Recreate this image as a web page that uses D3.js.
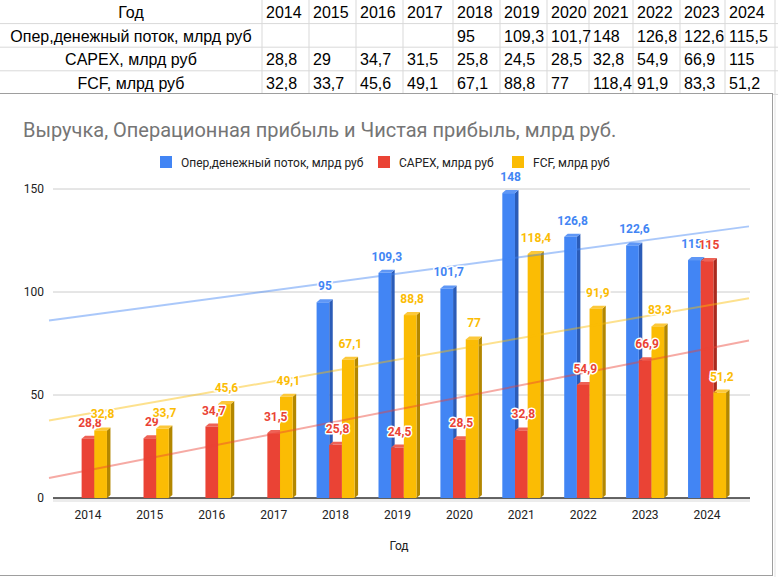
<!DOCTYPE html>
<html>
<head>
<meta charset="utf-8">
<script src="https://cdn.jsdelivr.net/npm/d3@7"></script>
<style>
  body { margin: 0; background: #fff; }
  svg { display: block; }
</style>
</head>
<body>
<div id="chart"></div>
<script>
const years = ["2014", "2015", "2016", "2017", "2018", "2019", "2020", "2021", "2022", "2023", "2024"];
const opCashFlow = [null, null, null, null, 95, 109.3, 101.7, 148, 126.8, 122.6, 115.5];
const capex = [28.8, 29, 34.7, 31.5, 25.8, 24.5, 28.5, 32.8, 54.9, 66.9, 115];
const fcf = [32.8, 33.7, 45.6, 49.1, 67.1, 88.8, 77, 118.4, 91.9, 83.3, 51.2];
const seriesNames = ["Опер,денежный поток, млрд руб", "CAPEX, млрд руб", "FCF, млрд руб"];
const yTicks = [0, 50, 100, 150];
const headerLabel = "Год";
const xAxisTitle = "Год";
const chartTitle = "Выручка, Операционная прибыль и Чистая прибыль, млрд руб.";

const W = 778, H = 577;
const fmt = v => v == null ? "" : String(v).replace(".", ",");

const series = [
  {name: seriesNames[0], values: opCashFlow, color: "#4285f4", side: "#2b5cb8", top: "#5f97f6"},
  {name: seriesNames[1], values: capex, color: "#ea4335", side: "#a92a1e", top: "#ee6256"},
  {name: seriesNames[2], values: fcf, color: "#fbbc04", side: "#b38700", top: "#fcc83a"}
];

const svg = d3.select("#chart").append("svg")
  .attr("width", W)
  .attr("height", H);

// ---------- spreadsheet table on top ----------
const rowH = 23.6, firstColW = 262;
const colWidths = [47, 47, 47, 50, 47, 47, 42, 44, 47, 45, 50];
const colX = [firstColW];
colWidths.forEach((w, i) => colX.push(colX[i] + w));

const rows = [
  {label: headerLabel, cells: years},
  {label: series[0].name, cells: opCashFlow.map(fmt)},
  {label: series[1].name, cells: capex.map(fmt)},
  {label: series[2].name, cells: fcf.map(fmt)}
];

const table = svg.append("g").attr("class", "table");
// grid
for (let r = 1; r <= rows.length; r++) {
  table.append("line")
    .attr("x1", 0).attr("x2", W)
    .attr("y1", r * rowH).attr("y2", r * rowH)
    .attr("stroke", "#d9d9d9");
}
colX.forEach(x => {
  table.append("line")
    .attr("x1", x).attr("x2", x)
    .attr("y1", 0).attr("y2", rows.length * rowH)
    .attr("stroke", "#d9d9d9");
});
// faint sheet grid to the right of the chart box
colX.slice(-1).forEach(x => {
  table.append("line")
    .attr("x1", x).attr("x2", x)
    .attr("y1", rows.length * rowH).attr("y2", H)
    .attr("stroke", "#e3e3e3");
});

rows.forEach((row, r) => {
  table.append("text")
    .attr("x", firstColW / 2)
    .attr("y", r * rowH + 18)
    .attr("text-anchor", "middle")
    .style("font", "16px 'Liberation Sans', Arial, sans-serif")
    .attr("fill", "#000")
    .text(row.label);
  row.cells.forEach((c, i) => {
    table.append("text")
      .attr("x", colX[i] + 4)
      .attr("y", r * rowH + 18)
      .style("font", "16px 'Liberation Sans', Arial, sans-serif")
      .attr("fill", "#000")
      .text(c);
  });
});

// ---------- chart box ----------
const box = {x: -1, y: 93, w: 773, h: 482};
svg.append("rect")
  .attr("x", box.x + 0.5).attr("y", box.y + 0.5)
  .attr("width", box.w).attr("height", box.h)
  .attr("fill", "#fff")
  .attr("stroke", "#9e9e9e");

svg.append("text")
  .attr("x", 23)
  .attr("y", 137)
  .style("font", "20px Roboto, 'Noto Sans', sans-serif")
  .attr("fill", "#757575")
  .text(chartTitle);

// legend
const legendX = [160, 378, 512];
const legend = svg.append("g")
  .selectAll("g")
  .data(series)
  .join("g")
  .attr("transform", (d, i) => "translate(" + legendX[i] + ",156)");
legend.append("rect")
  .attr("width", 12).attr("height", 12)
  .attr("fill", d => d.color);
legend.append("text")
  .attr("x", 21).attr("y", 10.5)
  .style("font", "12px Roboto, 'Noto Sans', sans-serif")
  .attr("fill", "#222")
  .text(d => d.name);

// scales
const plotLeft = 53, plotRight = 750;
const xScale = d3.scaleBand()
  .domain(years)
  .range([57, 738]);
const yScale = d3.scaleLinear()
  .domain([0, 150])
  .range([498, 189]);
const groupW = 38;
const xInner = d3.scaleBand()
  .domain(d3.range(series.length))
  .range([-groupW / 2, groupW / 2]);
const center = i => xScale(years[i]) + xScale.bandwidth() / 2;

// gridlines + y labels
const grid = svg.append("g");
grid.selectAll("line")
  .data(yTicks.filter(t => t !== 0))
  .join("line")
  .attr("x1", plotLeft).attr("x2", plotRight)
  .attr("y1", d => yScale(d)).attr("y2", d => yScale(d))
  .attr("stroke", "#cccccc");
grid.selectAll("text")
  .data(yTicks)
  .join("text")
  .attr("x", 44)
  .attr("y", d => yScale(d))
  .attr("dy", "0.35em")
  .attr("text-anchor", "end")
  .style("font", "12px Roboto, 'Noto Sans', sans-serif")
  .attr("fill", "#222")
  .text(d => d);

// floor under the zero line
svg.append("rect")
  .attr("x", plotLeft).attr("y", yScale(0))
  .attr("width", plotRight - plotLeft).attr("height", 4)
  .attr("fill", "#ececec");
svg.append("line")
  .attr("x1", plotLeft).attr("x2", plotRight)
  .attr("y1", yScale(0)).attr("y2", yScale(0))
  .attr("stroke", "#333")
  .attr("stroke-width", 1.3);

// x labels
svg.append("g")
  .selectAll("text")
  .data(years)
  .join("text")
  .attr("x", (d, i) => center(i))
  .attr("y", 519)
  .attr("text-anchor", "middle")
  .style("font", "12px Roboto, 'Noto Sans', sans-serif")
  .attr("fill", "#222")
  .text(d => d);

svg.append("text")
  .attr("x", 399)
  .attr("y", 550)
  .attr("text-anchor", "middle")
  .style("font", "12px Roboto, 'Noto Sans', sans-serif")
  .attr("fill", "#222")
  .text(xAxisTitle);

// 3d-ish bars
const depthX = 3.5, depthY = 3;
const barW = xInner.bandwidth();
const bars = [];
years.forEach((yr, i) => {
  series.forEach((s, k) => {
    if (s.values[i] == null) return;
    bars.push({i, k, s, v: s.values[i], x: center(i) + xInner(k)});
  });
});

const barG = svg.append("g");
const bar = barG.selectAll("g")
  .data(bars)
  .join("g");
bar.append("polygon")
  .attr("fill", d => d.s.side)
  .attr("points", d => {
    const x = d.x + barW, t = yScale(d.v), b = yScale(0);
    return [[x, t], [x + depthX, t - depthY], [x + depthX, b - depthY], [x, b]].join(" ");
  });
bar.append("polygon")
  .attr("fill", d => d.s.top)
  .attr("points", d => {
    const x = d.x, t = yScale(d.v);
    return [[x, t], [x + depthX, t - depthY], [x + barW + depthX, t - depthY], [x + barW, t]].join(" ");
  });
bar.append("rect")
  .attr("x", d => d.x)
  .attr("y", d => yScale(d.v))
  .attr("width", barW)
  .attr("height", d => yScale(0) - yScale(d.v))
  .attr("fill", d => d.s.color);

// linear trendlines (x = category index)
const idx = d3.scaleLinear().domain([0, years.length - 1]).range([center(0), center(years.length - 1)]);
const trendG = svg.append("g");
series.forEach(s => {
  const pts = s.values.map((v, i) => [i, v]).filter(p => p[1] != null);
  const mx = d3.mean(pts, p => p[0]), my = d3.mean(pts, p => p[1]);
  const slope = d3.sum(pts, p => (p[0] - mx) * (p[1] - my)) / d3.sum(pts, p => (p[0] - mx) ** 2);
  const f = t => my + slope * (t - mx);
  const t0 = idx.invert(plotLeft - 4), t1 = idx.invert(plotRight - 1);
  trendG.append("line")
    .attr("x1", idx(t0)).attr("y1", yScale(f(t0)))
    .attr("x2", idx(t1)).attr("y2", yScale(f(t1)))
    .attr("stroke", s.color)
    .attr("stroke-opacity", 0.45)
    .attr("stroke-width", 2);
});

// value labels
svg.append("g")
  .selectAll("text")
  .data(bars)
  .join("text")
  .attr("x", d => d.x + barW / 2 + 2)
  .attr("y", d => yScale(d.v) - 12)
  .attr("text-anchor", "middle")
  .style("font", "bold 12px Roboto, 'Noto Sans', sans-serif")
  .attr("fill", d => d.s.color)
  .attr("stroke", "#fff")
  .attr("stroke-width", 3)
  .attr("stroke-linejoin", "round")
  .attr("paint-order", "stroke")
  .text(d => fmt(d.v));
</script>
</body>
</html>
